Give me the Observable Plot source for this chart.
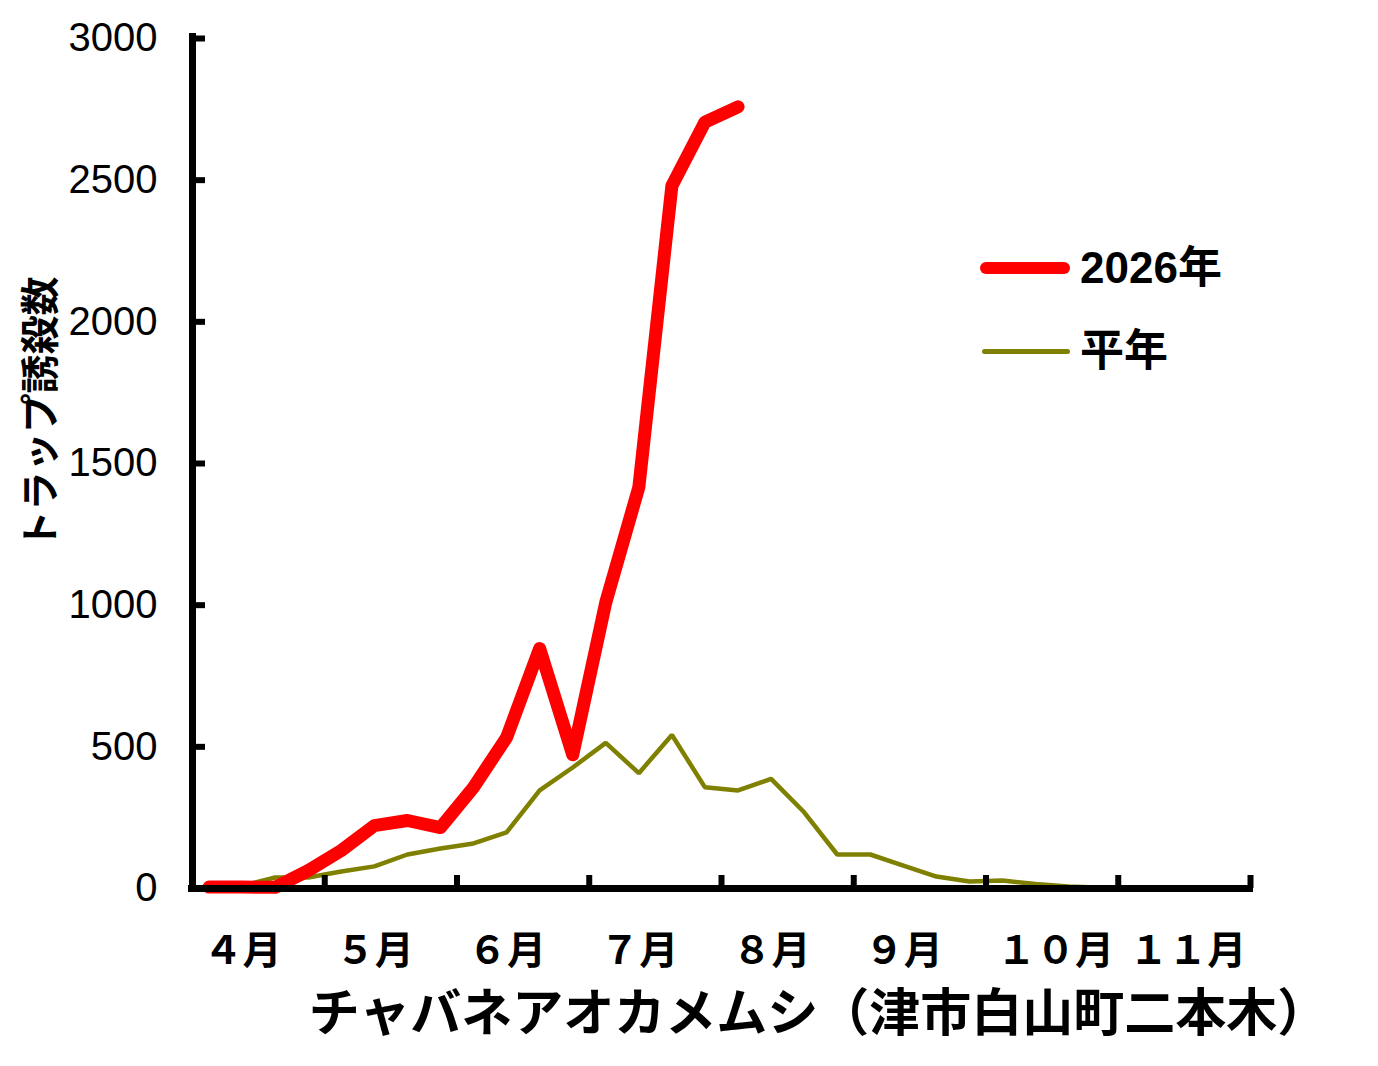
<!DOCTYPE html>
<html>
<head>
<meta charset="utf-8">
<script src="https://cdn.jsdelivr.net/npm/d3@7"></script>
<script src="https://cdn.jsdelivr.net/npm/@observablehq/plot@0.6"></script>
<style>
  html, body { margin: 0; padding: 0; background: #fff; }
  #wrap { position: relative; width: 1378px; height: 1066px; }
  #wrap svg { position: absolute; left: 0; top: 0; }
  .leg-line { position: absolute; }
  .leg-text { position: absolute; font-family: "Liberation Sans", "Noto Sans CJK JP", sans-serif; font-weight: bold; font-size: 44px; line-height: 44px; color: #000; white-space: nowrap; }
  .ylab { position: absolute; font-family: "Noto Sans CJK JP", sans-serif; font-weight: bold; font-size: 39px; line-height: 1; color: #000; white-space: nowrap; transform: translate(-50%, -50%) rotate(-90deg); }
</style>
</head>
<body>
<div id="wrap"></div>
<script>
// ---- data ----
const months = ["４月", "５月", "６月", "７月", "８月", "９月", "１０月", "１１月"];
const periodsPerMonth = 4;
const yTicks = [0, 500, 1000, 1500, 2000, 2500, 3000];
const series2026 = [5, 5, 4, 63, 134, 222, 240, 215, 357, 533, 847, 472, 1010, 1416, 2480, 2705, 2759];
const seriesNormal = [4, 10, 39, 39, 60, 78, 120, 141, 159, 198, 346, 427, 514, 407, 542, 357, 346, 387, 269, 120, 120, 81, 42, 25, 28, 16, 7, 3, 1, 1, 1, 1];
const seriesNames = ["2026年", "平年"];
const yLabel = "トラップ誘殺数";
const xTitle = "チャバネアオカメムシ（津市白山町二本木）";

// ---- build ----
const nPeriods = months.length * periodsPerMonth;
const rows2026 = series2026.map((v, i) => ({k: i + 0.5, v}));
const rowsNormal = seriesNormal.map((v, i) => ({k: i + 0.5, v}));
const monthStarts = months.map((m, i) => ({m, x: i * periodsPerMonth}));
const monthEdges = d3.range(1, months.length + 1).map(i => i * periodsPerMonth);

const W = 1378, H = 1066;
const mL = 192, mR = 128, mT = 38, mB = 178;
const plotW = W - mL - mR, plotH = H - mT - mB;
const numFont = "'Liberation Sans', 'Noto Sans CJK JP', sans-serif";
const jpFont = "'Noto Sans CJK JP', sans-serif";

const chart = Plot.plot({
  width: W,
  height: H,
  marginLeft: mL,
  marginRight: mR,
  marginTop: mT,
  marginBottom: mB,
  style: {background: "white", fontFamily: numFont, color: "black", overflow: "visible"},
  x: {domain: [0, nPeriods], axis: null},
  y: {domain: [0, 3000], axis: null},
  marks: [
    // series
    Plot.line(rowsNormal, {x: "k", y: "v", stroke: "#808000", strokeWidth: 4.5, strokeLinejoin: "miter", strokeLinecap: "round"}),
    Plot.line(rows2026, {x: "k", y: "v", stroke: "#ff0000", strokeWidth: 13, strokeLinejoin: "round", strokeLinecap: "round"}),
    // axis lines
    Plot.ruleX([0], {stroke: "black", strokeWidth: 7, insetTop: -5, insetBottom: -4}),
    Plot.ruleY([0], {stroke: "black", strokeWidth: 7, insetLeft: -4, insetRight: -3}),
    // y ticks (pointing inward)
    Plot.tickY(yTicks, {y: d => d, stroke: "black", strokeWidth: 6, insetRight: plotW - 13}),
    // x ticks at month boundaries (pointing inward)
    Plot.tickX(monthEdges, {x: d => d, stroke: "black", strokeWidth: 6, insetTop: plotH - 13}),
    // y tick labels
    Plot.axisY({ticks: yTicks, tickSize: 0, tickPadding: 35, fontSize: 40, fontWeight: "normal", fontFamily: numFont, tickFormat: d => String(d), label: null}),
    // month labels
    Plot.text(monthStarts, {x: "x", text: "m", frameAnchor: "bottom", textAnchor: "start", dx: 11, dy: 75, fontSize: 39, fontWeight: "bold", fontFamily: jpFont, fill: "black"}),
    // x title
    Plot.text([xTitle], {frameAnchor: "bottom", dx: 97, dy: 142, fontSize: 51, fontWeight: "bold", fontFamily: jpFont, fill: "black"})
  ]
});

const wrap = document.getElementById("wrap");
wrap.appendChild(chart);

// y label
const yl = document.createElement("div");
yl.className = "ylab";
yl.textContent = yLabel;
Object.assign(yl.style, {left: "37px", top: "413px"});
wrap.appendChild(yl);

// legend
const legend = [
  {name: seriesNames[0], color: "#ff0000", thick: 12, left: 980, top: 268},
  {name: seriesNames[1], color: "#808000", thick: 5, left: 982, top: 351}
];
legend.forEach(l => {
  const line = document.createElement("div");
  line.className = "leg-line";
  Object.assign(line.style, {
    left: l.left + "px",
    top: (l.top - l.thick / 2) + "px",
    width: (1070 - l.left) + "px",
    height: l.thick + "px",
    background: l.color,
    borderRadius: (l.thick / 2) + "px"
  });
  wrap.appendChild(line);
  const t = document.createElement("div");
  t.className = "leg-text";
  t.textContent = l.name;
  Object.assign(t.style, {left: "1080px", top: (l.top - 22) + "px"});
  wrap.appendChild(t);
});
</script>
</body>
</html>
